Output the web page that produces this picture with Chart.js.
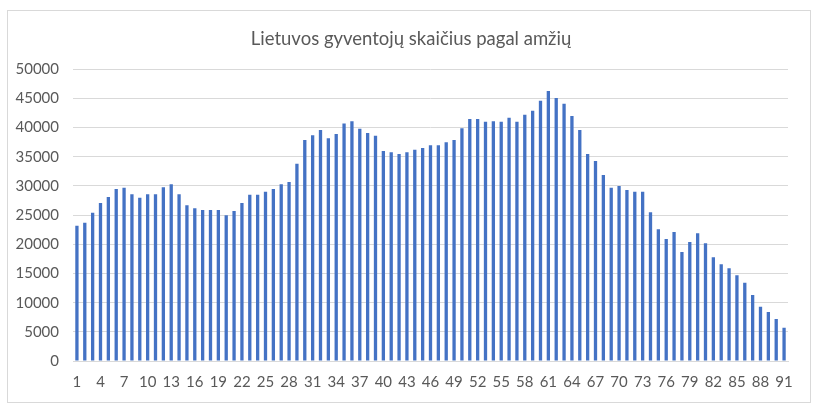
<!DOCTYPE html>
<html>
<head>
<meta charset="utf-8">
<script src="https://cdn.jsdelivr.net/npm/chart.js@4"></script>
<style>
    html, body { margin: 0; padding: 0; background: #fff; }
    #frame {
        position: absolute; left: 7px; top: 10px;
        width: 804px; height: 393px;
        box-sizing: border-box; border: 1px solid #d9d9d9;
    }
    #chart { display: block; }
    #title {
        position: absolute; left: 211px; width: 400px; top: 27px;
        text-align: center; color: #595959;
        font: 18.5px/22px Lato, "Open Sans", sans-serif;
    }
</style>
</head>
<body>
<div id="frame"><canvas id="chart" width="802" height="391"></canvas></div>
<div id="title"></div>
<script>
// ─── Data ───────────────────────────────────────────────
const chartTitle = 'Lietuvos gyventojų skaičius pagal amžių';

const ages = [];
for (let a = 1; a <= 91; a++) ages.push(String(a));

const population = [
    23200, 23700, 25400, 27100, 28100, 29500, 29700, 28600, 28000, 28600,
    28600, 29800, 30300, 28600, 26700, 26200, 25900, 25900, 25900, 25000,
    25700, 27100, 28500, 28500, 29000, 29500, 30300, 30700, 33800, 37900,
    38700, 39600, 38200, 38900, 40700, 41100, 39800, 39100, 38600, 36000,
    35800, 35500, 35800, 36200, 36500, 37000, 37000, 37500, 37900, 39900,
    41500, 41500, 41000, 41100, 41000, 41700, 41000, 42200, 42900, 44600,
    46300, 45100, 44100, 42000, 39600, 35500, 34300, 31900, 29700, 30000,
    29300, 29000, 29000, 25500, 22600, 20900, 22100, 18700, 20400, 21900,
    20200, 17800, 16600, 15900, 14700, 13400, 11300, 9300, 8400, 7200,
    5700
];

const yTicks = { min: 0, max: 50000, step: 5000 };

const textColor = '#595959';
const gridColor = '#d9d9d9';
const barColor = '#4472C4';
const fontFamily = 'Lato, "Open Sans", sans-serif';

document.getElementById('title').textContent = chartTitle;

// ─── Chart ──────────────────────────────────────────────
new Chart(document.getElementById('chart'), {
    type: 'bar',
    data: {
        labels: ages,
        datasets: [{
            label: 'Gyventojai',
            data: population,
            backgroundColor: barColor,
            borderWidth: 0,
            barPercentage: 0.42,
            categoryPercentage: 1
        }]
    },
    options: {
        responsive: false,
        animation: false,
        layout: { padding: { left: 0, right: 22, top: 58.3, bottom: 0 } },
        plugins: {
            legend: { display: false },
            tooltip: { enabled: false },
            title: { display: false }
        },
        scales: {
            x: {
                grid: { display: false, drawTicks: false },
                border: { display: true, color: gridColor },
                ticks: {
                    autoSkip: false,
                    maxRotation: 0,
                    padding: 12,
                    color: textColor,
                    font: { family: fontFamily, size: 15 },
                    callback: (v, i) => (i % 3 === 0 ? ages[i] : '')
                },
                afterFit: s => { s.height = 41; }
            },
            y: {
                min: yTicks.min,
                max: yTicks.max,
                grid: { color: gridColor, drawTicks: false },
                border: { display: false },
                ticks: {
                    stepSize: yTicks.step,
                    padding: 14,
                    color: textColor,
                    font: { family: fontFamily, size: 15 },
                    callback: v => String(v)
                },
                afterFit: s => { s.width = 65; }
            }
        }
    }
});
</script>
</body>
</html>
